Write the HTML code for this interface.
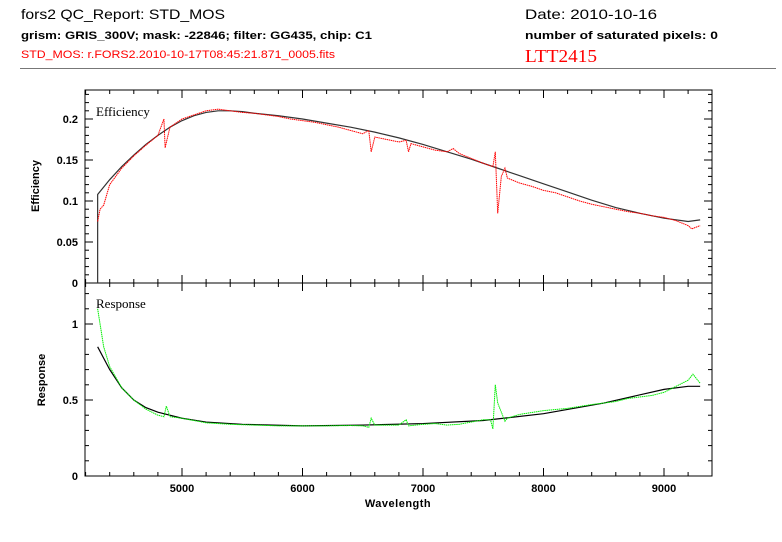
<!DOCTYPE html>
<html><head><meta charset="utf-8"><style>
body{margin:0;background:#fff;width:782px;height:542px;overflow:hidden;font-family:"Liberation Sans",sans-serif}
svg{position:absolute;left:0;top:0}
</style></head><body>
<svg width="782" height="542">
<g font-family="Liberation Sans, sans-serif">
<text x="21" y="19" font-size="14" textLength="204" lengthAdjust="spacingAndGlyphs">fors2 QC_Report: STD_MOS</text>
<text x="21" y="39" font-size="11" font-weight="bold" textLength="351" lengthAdjust="spacingAndGlyphs">grism: GRIS_300V; mask: -22846; filter: GG435, chip: C1</text>
<text x="21" y="58" font-size="11" fill="#f00" textLength="314" lengthAdjust="spacingAndGlyphs">STD_MOS: r.FORS2.2010-10-17T08:45:21.871_0005.fits</text>
<text x="525" y="19" font-size="14" textLength="132" lengthAdjust="spacingAndGlyphs">Date: 2010-10-16</text>
<text x="525" y="39" font-size="11" font-weight="bold" textLength="193" lengthAdjust="spacingAndGlyphs">number of saturated pixels: 0</text>
<text x="525" y="62" font-size="18" fill="#f00" font-family="Liberation Serif, serif" textLength="72" lengthAdjust="spacingAndGlyphs">LTT2415</text>
<line x1="20" y1="68.5" x2="776" y2="68.5" stroke="#777" stroke-width="1"/>
</g>
<g id="chart"></g>
</svg>
<script>
const effWl=[4300,4320,4350,4380,4400,4450,4500,4600,4700,4800,4850,4860,4900,5000,5100,5200,5300,5400,5500,5600,5700,5800,5900,6000,6100,6200,6300,6400,6500,6550,6570,6600,6700,6800,6860,6880,6900,7000,7100,7200,7250,7300,7400,7500,7580,7600,7620,7650,7680,7700,7800,7900,8000,8100,8200,8300,8400,8500,8600,8700,8800,8900,9000,9100,9200,9230,9300];
const effVal=[0.075,0.09,0.095,0.11,0.12,0.13,0.14,0.155,0.168,0.18,0.2,0.165,0.19,0.2,0.205,0.21,0.212,0.21,0.208,0.207,0.205,0.203,0.2,0.198,0.196,0.193,0.19,0.186,0.182,0.186,0.16,0.178,0.175,0.172,0.174,0.16,0.17,0.166,0.162,0.16,0.164,0.158,0.152,0.146,0.142,0.16,0.085,0.13,0.14,0.128,0.122,0.118,0.113,0.11,0.105,0.1,0.096,0.093,0.09,0.087,0.085,0.082,0.08,0.076,0.07,0.066,0.07];
const effFitWl=[4300,4300,4400,4500,4600,4700,4800,4900,5000,5100,5200,5300,5400,5500,5600,5800,6000,6200,6400,6600,6800,7000,7200,7400,7600,7800,8000,8200,8400,8600,8800,9000,9200,9300];
const effFitVal=[0,0.108,0.126,0.142,0.156,0.169,0.18,0.19,0.198,0.204,0.208,0.21,0.21,0.209,0.207,0.204,0.2,0.195,0.19,0.184,0.177,0.169,0.16,0.151,0.141,0.131,0.121,0.111,0.101,0.092,0.085,0.079,0.075,0.077];
const resWl=[4300,4320,4350,4400,4500,4600,4700,4800,4850,4870,4900,5000,5200,5400,5600,5800,6000,6200,6400,6500,6550,6570,6600,6800,6860,6880,7000,7100,7200,7300,7400,7500,7560,7580,7600,7620,7650,7680,7700,7800,8000,8200,8400,8600,8700,8800,8900,9000,9100,9200,9240,9300];
const resVal=[1.1,1.0,0.85,0.72,0.58,0.5,0.44,0.4,0.39,0.46,0.39,0.38,0.35,0.34,0.335,0.33,0.33,0.33,0.332,0.33,0.32,0.38,0.335,0.335,0.37,0.33,0.34,0.345,0.335,0.34,0.355,0.37,0.37,0.31,0.6,0.48,0.42,0.36,0.38,0.405,0.43,0.445,0.47,0.49,0.51,0.52,0.53,0.55,0.59,0.63,0.67,0.61];
const resFitWl=[4300,4400,4500,4600,4700,4800,5000,5200,5500,6000,6500,7000,7500,8000,8500,9000,9200,9300];
const resFitVal=[0.85,0.7,0.58,0.5,0.45,0.42,0.38,0.355,0.34,0.33,0.335,0.345,0.365,0.41,0.48,0.57,0.59,0.59];
const xTicks=[5000,6000,7000,8000,9000];
const effTicks=[0,0.05,0.1,0.15,0.2];
const resTicks=[0,0.5,1];

const NS='http://www.w3.org/2000/svg';
const g=document.getElementById('chart');
const L=85,R=712;
const x=w=>182+(w-5000)*0.1205;
const yE=v=>283-v*820;
const yR=v=>476-v*152;
function el(t,a,p){const e=document.createElementNS(NS,t);for(const k in a)e.setAttribute(k,a[k]);(p||g).appendChild(e);return e;}
function panel(top,bot,yf,ticks,minor,maxv,name){
  const f=el('rect',{x:L,y:top,width:R-L,height:bot-top,fill:'none',stroke:'#000','stroke-width':1});
  
  
  for(let w=4200;w<=9300;w+=200){const X=x(w);if(X<L||X>R)continue;const big=w%1000===0;const len=big?8:4;
    el('line',{x1:X,y1:bot,x2:X,y2:bot-len,stroke:'#000'});el('line',{x1:X,y1:top,x2:X,y2:top+len,stroke:'#000'});}
  for(let v=0;v<=maxv+1e-9;v+=minor){const Y=yf(v);if(Y<top)continue;el('line',{x1:L,y1:Y,x2:L+4,y2:Y,stroke:'#000'});el('line',{x1:R,y1:Y,x2:R-4,y2:Y,stroke:'#000'});}
  ticks.forEach(v=>{const Y=yf(v);el('line',{x1:L,y1:Y,x2:L+8,y2:Y,stroke:'#000'});el('line',{x1:R,y1:Y,x2:R-8,y2:Y,stroke:'#000'});
    const t=el('text',{x:L-7,y:Y+4,'font-size':11,'font-weight':'bold','text-anchor':'end'});t.textContent=String(v);
    
    });
}
function series(wl,val,yf,color,name,dots){
  const pts=wl.map((w,i)=>x(w)+','+yf(val[i])).join(' ');
  const p=el('polyline',{points:pts,fill:'none',stroke:color,'stroke-width':dots?1:1.2,'stroke-dasharray':dots?'1.5 0.6':'none'});
  
  
}
panel(90,283,yE,effTicks,0.01,0.23,'efficiency');
panel(283,476,yR,resTicks,0.1,1.25,'response');
series(effFitWl,effFitVal,yE,'#333','efficiency-fit',false);
series(effWl,effVal,yE,'#f00','efficiency-data',true);
series(resFitWl,resFitVal,yR,'#000','response-fit',false);
series(resWl,resVal,yR,'#0e0','response-data',true);
xTicks.forEach(w=>{const t=el('text',{x:x(w),y:492,'font-size':11,'font-weight':'bold','text-anchor':'middle'});t.textContent=w;
  
  });
const lbls=[['Efficiency',96,116,'efficiency-panel-title',13],['Response',96,308,'response-panel-title',13]];
lbls.forEach(a=>{const t=el('text',{x:a[1],y:a[2],'font-size':a[4],'font-family':'Liberation Serif, serif'});t.textContent=a[0];
  
  });
const ya=el('text',{x:0,y:0,'font-size':11,'font-weight':'bold','text-anchor':'middle',transform:'translate(39,186) rotate(-90)'});ya.textContent='Efficiency';


const yb=el('text',{x:0,y:0,'font-size':11,'font-weight':'bold','text-anchor':'middle',transform:'translate(45,380) rotate(-90)'});yb.textContent='Response';


const xa=el('text',{x:398,y:507,'font-size':11,'font-weight':'bold','text-anchor':'middle','letter-spacing':'0.5'});xa.textContent='Wavelength';


</script>
</body></html>
